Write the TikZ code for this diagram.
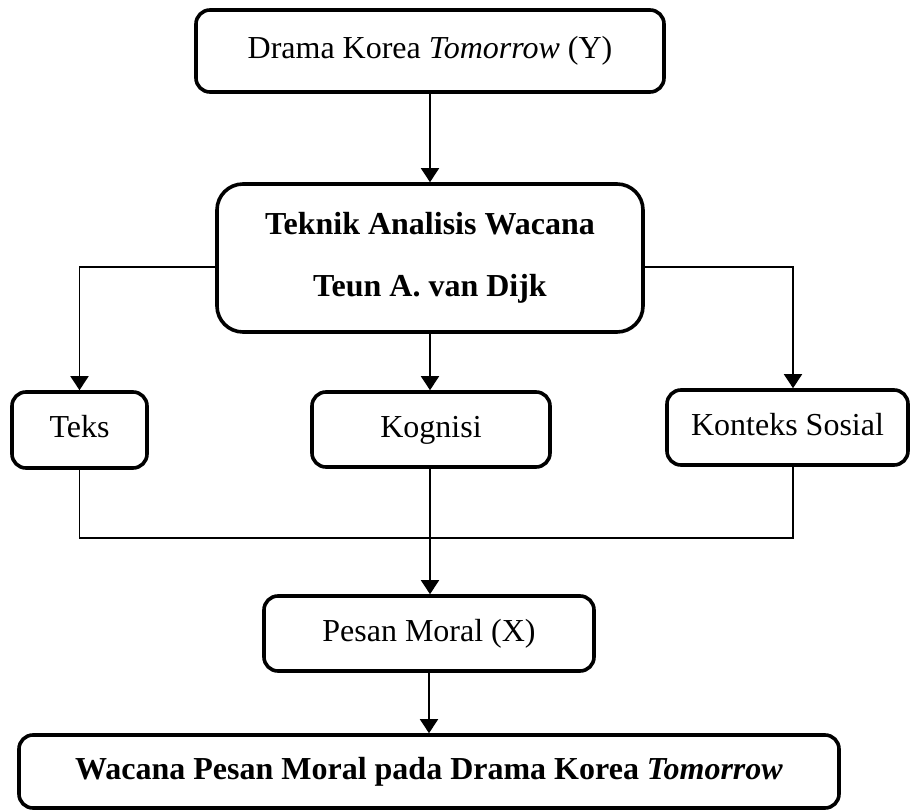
\documentclass[tikz,border=0pt]{standalone}
\usepackage{fontspec}
\setmainfont{Liberation Serif}
\usetikzlibrary{arrows.meta}
\begin{document}
\begin{tikzpicture}[x=1pt,y=-1pt,
  box/.style={draw, line width=3.6pt, rounded corners=14pt, inner sep=0pt,
    align=center, font=\fontsize{32}{38}\selectfont},
  oneline/.style={text height=22pt, text depth=7pt},
  conn/.style={line width=1.8pt},
  arr/.style={conn, -{Triangle[length=14pt,width=18pt]}}]
\useasboundingbox (0,0) rectangle (910,810);
\node[box, oneline, minimum width=468pt, minimum height=82pt] (top) at (430,51) {Drama Korea \textit{Tomorrow} (Y)};
\node[box, rounded corners=26pt, minimum width=426pt, minimum height=148pt,
  font=\fontsize{32}{62}\selectfont\bfseries] (ana) at (430,258) {Teknik Analisis Wacana\\Teun A. van Dijk};
\node[box, oneline, minimum width=135pt, minimum height=76pt] (teks) at (79.5,430) {Teks};
\node[box, oneline, minimum width=238pt, minimum height=75pt] (kog) at (431,429.5) {Kognisi};
\node[box, oneline, minimum width=241pt, minimum height=75pt] (kon) at (787.5,427.5) {Konteks Sosial};
\node[box, oneline, minimum width=330pt, minimum height=75pt] (pesan) at (429,633.5) {Pesan Moral (X)};
\node[box, oneline, minimum width=820pt, minimum height=73pt, font=\fontsize{32}{38}\selectfont\bfseries] (final) at (429,771.5) {Wacana Pesan Moral pada Drama Korea \textit{Tomorrow}};
\coordinate (konin) at ([xshift=5.5pt]kon.north);
\coordinate (konout) at ([xshift=5.5pt]kon.south);
\coordinate (j) at (430,538);
\draw[arr] (top) -- (ana);
\draw[arr] ([yshift=-9pt]ana.west) -| (teks.north);
\draw[arr] ([yshift=-9pt]ana.east) -| (konin);
\draw[arr] (ana.south) -- (ana.south |- kog.north);
\draw[conn] (teks.south) -- (teks.south |- j) -- (konout |- j) -- (konout);
\draw[arr] (kog.south -| j) -- (j |- pesan.north);
\draw[arr] (pesan) -- (final);
\end{tikzpicture}
\end{document}
